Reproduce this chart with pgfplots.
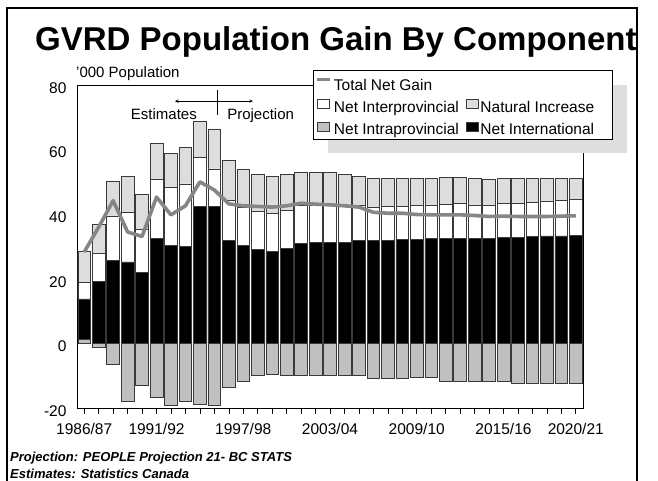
\documentclass[border=0pt]{standalone}
\usepackage{pgfplots}
\pgfplotsset{compat=1.18}
\usepackage{pgfplotstable}
\usepackage{fontspec}
\setmainfont{Liberation Sans}

% GVRD population gain by component ('000 persons)
% idx: 0 = 1986/87 ... 34 = 2020/21
\pgfplotstableread{
idx intra intl  inter nat  total
0    1.4  12.4  5.2   9.5  28.3
1   -1.2  19.2  8.8   9.0  36.0
2   -6.4  25.8  13.7  10.8 44.2
3  -17.8  25.2  15.4  11.1 34.5
4  -13.1  21.9  13.3  11.0 33.1
5  -16.7  32.6  18.1  11.3 45.3
6  -19.2  30.3  18.0  10.4 39.8
7  -18.0  30.0  19.4  11.3 42.6
8  -19.0  42.4  15.2  11.1 50.0
9  -19.2  42.4  11.6  12.4 47.5
10 -13.5  32.0  12.2  12.4 43.2
11 -11.6  30.3  11.7  12.0 42.6
12 -10.0  29.0  11.8  11.4 42.4
13  -9.7  28.5  11.8  11.4 42.2
14  -9.9  29.5  11.7  11.0 42.6
15 -10.0  30.9  11.7  10.4 43.4
16 -10.0  31.3  11.6  10.0 43.1
17 -10.0  31.3  11.6  10.0 42.9
18 -10.0  31.3  11.4  9.7  42.6
19 -10.0  31.8  10.9  9.0  42.2
20 -10.7  32.0  10.1  9.1  40.6
21 -10.7  32.0  10.4  8.6  40.3
22 -10.7  32.2  10.2  8.6  40.3
23 -10.5  32.1  10.5  8.4  39.9
24 -10.5  32.4  10.5  8.3  39.8
25 -11.6  32.4  10.7  8.3  39.8
26 -11.6  32.4  11.0  8.0  39.8
27 -11.6  32.4  10.5  8.1  39.6
28 -11.6  32.6  10.3  7.8  39.3
29 -11.6  32.9  10.5  7.6  39.4
30 -12.3  32.9  10.5  7.8  39.3
31 -12.3  33.1  10.6  7.5  39.3
32 -12.3  33.3  10.8  7.1  39.3
33 -12.3  33.3  11.0  6.9  39.4
34 -12.3  33.5  11.2  6.5  39.5
}\gvrd

\definecolor{natural}{HTML}{DDDDDD}
\definecolor{intrap}{HTML}{C0C0C0}
\definecolor{netline}{HTML}{868686}
\definecolor{edge}{HTML}{3A3A3A}
\definecolor{keyshadow}{HTML}{DEDEDE}

\pgfplotsset{
  gvrdframe/.style={
    scale only axis, width=506pt, height=323pt,
    at={(77pt,73pt)}, anchor=south west,
    xmin=-0.5, xmax=34.5, ymin=-20, ymax=80,
    bar width=12.7pt,
  },
  gvrdbar/.style={draw=edge, line width=0.6pt, fill=#1},
  gvrdkey/.style={legend image code/.code={%
    \draw[edge, line width=0.6pt, fill=#1] (0pt,-1pt) rectangle (12pt,8pt);}},
}

\begin{document}
\begin{tikzpicture}[x=1pt,y=1pt]
\path[use as bounding box] (0,0) rectangle (658,481);

% stacked positive components
\begin{axis}[gvrdframe, ybar stacked,
  axis line style={black, line width=0.7pt},
  ytick={-20,0,...,80},
  ytick style={draw=none},
  yticklabel style={font=\fontsize{15.5}{18}\selectfont, xshift=-1pt, yshift=-3pt},
  xtick={0,...,34},
  xticklabels={1986/87,,,,,1991/92,,,,,,1997/98,,,,,,2003/04,,,,,,2009/10,,,,,,2015/16,,,,,2020/21},
  xtick pos=left,
  xtick style={black, line width=0.6pt},
  tick align=outside, major tick length=6pt,
  xticklabel style={font=\fontsize{15.5}{18}\selectfont, yshift=-6pt},
  /pgf/number format/assume math mode=true,
]
\addplot[gvrdbar=intrap] table[x=idx, y expr={max(\thisrow{intra},0)}] {\gvrd};
\addplot[gvrdbar=black] table[x=idx, y=intl] {\gvrd};
\addplot[gvrdbar=white] table[x=idx, y=inter] {\gvrd};
\addplot[gvrdbar=natural] table[x=idx, y=nat] {\gvrd};
\end{axis}

% outflows below zero, total line, legend
\begin{axis}[gvrdframe, hide axis, clip=false,
  legend columns=2,
  legend cell align=left,
  legend style={
    at={(0.4664,1.0464)}, anchor=north west,
    draw=black, line width=0.7pt, fill=white,
    font=\fontsize{15.5}{18}\selectfont,
    inner xsep=2pt, inner ysep=1pt,
    nodes={inner xsep=2pt},
    row sep=5.5pt, column sep=0pt,
    /tikz/every even column/.append style={column sep=5pt},
  },
]
\addplot[ybar, bar shift=0pt, gvrdbar=intrap, forget plot]
  table[x=idx, y expr={min(\thisrow{intra},0)}] {\gvrd};
\addplot[sharp plot, netline, line width=3.6pt, line join=round, forget plot]
  table[x=idx, y=total] {\gvrd};

% shadow of the key box
\fill[keyshadow] (rel axis cs:0.496,1.0) rectangle (rel axis cs:1.087,0.7895);

\addlegendimage{legend image code/.code={\draw[netline, line width=3.6pt] (0pt,3pt) -- (13pt,3pt);}}
\addlegendentry{\rule{0pt}{17pt}Total Net Gain}
\addlegendimage{empty legend}
\addlegendentry{}
\addlegendimage{gvrdkey=white}
\addlegendentry{Net Interprovincial}
\addlegendimage{gvrdkey=natural}
\addlegendentry{Natural Increase}
\addlegendimage{gvrdkey=intrap}
\addlegendentry{Net Intraprovincial}
\addlegendimage{gvrdkey=black}
\addlegendentry{Net International\rule{14pt}{0pt}}

% estimates / projection divider
\draw[black, line width=0.6pt] (axis cs:9.18,78.5) -- (axis cs:9.18,70.7);
\draw[black, line width=0.6pt, <->, >=stealth] (axis cs:6.28,75.0) -- (axis cs:11.67,75.0);
\node[anchor=base east, inner sep=0pt, font=\fontsize{15}{18}\selectfont]
  at (axis cs:7.8,69.2) {Estimates};
\node[anchor=base west, inner sep=0pt, font=\fontsize{15}{18}\selectfont]
  at (axis cs:9.88,69.2) {Projection};
\end{axis}

% titles and notes
\node[anchor=base west, inner sep=0pt, font=\fontsize{33}{36}\selectfont\bfseries]
  at (35,430) {GVRD Population Gain By Component};
\node[anchor=base west, inner sep=0pt, font=\fontsize{15}{18}\selectfont]
  at (76,403) {'000 Population};
\node[anchor=base west, inner sep=0pt, font=\fontsize{13}{15}\selectfont\bfseries\itshape]
  at (10,19) {Projection: PEOPLE Projection 21- BC STATS};
\node[anchor=base west, inner sep=0pt, font=\fontsize{13}{15}\selectfont\bfseries\itshape]
  at (10,2) {Estimates: Statistics Canada};

% outer frame
\draw[black, line width=2pt] (7,-10) -- (7,473) -- (637,473) -- (637,-10);
\end{tikzpicture}
\end{document}
